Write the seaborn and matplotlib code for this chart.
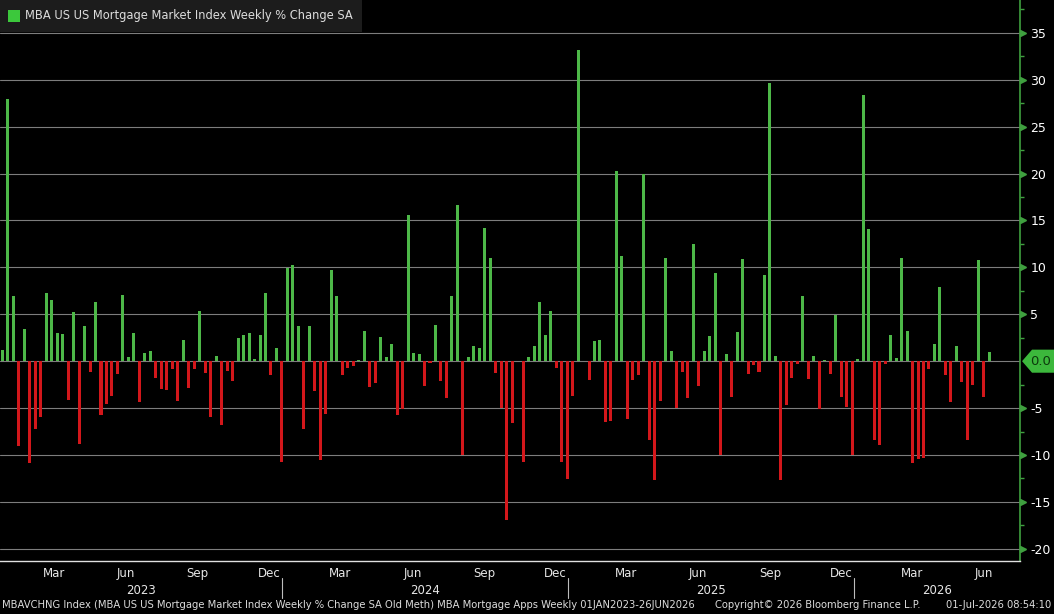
import pandas as pd
import seaborn as sns
import matplotlib.pyplot as plt
import matplotlib.transforms as mtransforms
from matplotlib.patches import Polygon, Rectangle
import numpy as np

# Weekly % change, one value per week starting with the week ending 06JAN2023
first_week = pd.Timestamp('2023-01-06')
weekly_change = [
    1.2, 28.0, 7.0, -9.0, 3.4, -10.9, -7.2, -5.9, 7.3, 6.5, 3.0, 2.9,
    -4.1, 5.2, -8.8, 3.7, -1.2, 6.3, -5.7, -4.6, -3.7, -1.4, 7.1, 0.4,
    3.0, -4.4, 0.9, 1.1, -1.8, -3.0, -3.1, -0.8, -4.2, 2.3, -2.9, -0.8,
    5.3, -1.3, -6.0, 0.5, -6.8, -1.0, -2.1, 2.5, 2.8, 3.0, 0.2,
    2.8, 7.3, -1.5, 1.4, -10.7, 9.9, 10.3, 3.7, -7.2, 3.7, -3.2, -10.5,
    -5.6, 9.7, 7.0, -1.5, -0.7, -0.5, 0.1, 3.2, -2.7, -2.3, 2.6,
    0.4, 1.8, -5.7, -5.1, 15.6, 0.9, 0.8, -2.6, -0.2, 3.9, -2.1, -3.9,
    6.9, 16.7, -10.0, 0.4, 1.6, 1.4, 14.2, 11.0, -1.3, -5.0,
    -16.9, -6.6, 0.0, -10.8, 0.4, 1.6, 6.3, 2.8, 5.3, -0.7, -10.7, -12.6,
    -3.7, 33.2, 0.0, -2.0, 2.2, 2.3, -6.5, -6.4, 20.3, 11.2, -6.2,
    -2.0, -1.5, 19.9, -8.4, -12.7, -4.2, 11.0, 1.1, -5.0, -1.2, -3.9, 12.5,
    -2.6, 1.1, 2.7, 9.4, -10.0, 0.8, -3.8, 3.1, 10.9, -1.4, -0.4,
    -1.2, 9.2, 29.6, 0.5, -12.7, -4.7, -1.8, -0.3, 7.0, -1.9, 0.5, -5.1,
    0.1, -1.4, 4.9, -3.8, -4.9, -10.0, 0.2, 28.4, 14.1, -8.4, -8.9,
    -0.3, 2.8, 0.3, 11.0, 3.2, -10.9, -10.4, -10.3, -0.8, 1.8, 7.9, -1.5,
    -4.4, 1.6, -2.2, -8.4, -2.5, 10.8, -3.8, 1.0, 0.0,
]

quarter_months = [3, 6, 9, 12]
month_names = ['Mar', 'Jun', 'Sep', 'Dec']
years = [2023, 2024, 2025, 2026]
y_ticks = list(range(-20, 40, 5))

title_text = 'MBA US US Mortgage Market Index Weekly % Change SA'
footer_left = ('MBAVCHNG Index (MBA US US Mortgage Market Index Weekly % Change SA Old Meth) '
               'MBA Mortgage Apps Weekly 01JAN2023-26JUN2026')
footer_mid = 'Copyright\u00a9 2026 Bloomberg Finance L.P.'
footer_right = '01-Jul-2026 08:54:10'

GREEN = '#4db848'
RED = '#d3171b'
AXIS_GREEN = '#3fa03f'
TAG_GREEN = '#3cb83c'


def week_pos(date):
    # position of a calendar date on the week-index axis
    return (pd.Timestamp(date) - first_week).days / 7 - 0.5


def create_chart():
    sns.set_theme(style='white')
    plt.rcParams['font.family'] = ['DejaVu Sans']

    df = pd.DataFrame({'week': np.arange(len(weekly_change)), 'change': weekly_change})
    df['direction'] = np.where(df['change'] >= 0, 'up', 'down')

    fig = plt.figure(figsize=(10.54, 6.14), dpi=100, facecolor='black')
    ax = fig.add_axes([0, 53 / 614, 1020 / 1054, 561 / 614])
    ax.set_facecolor('black')

    sns.barplot(data=df, x='week', y='change', hue='direction',
                palette={'up': GREEN, 'down': RED}, dodge=False, width=0.55,
                saturation=1, linewidth=0, errorbar=None, legend=False, ax=ax)

    x_left, x_right = -0.42, 185.6
    ax.set_xlim(x_left, x_right)
    ax.set_ylim(-21.3, 38.5)
    ax.set_xlabel('')
    ax.set_ylabel('')

    # right-hand value axis
    ax.yaxis.tick_right()
    ax.set_yticks(y_ticks)
    ax.set_yticklabels(['' if t == 0 else str(t) for t in y_ticks])
    ax.set_yticks(np.arange(-17.5, 38, 5), minor=True)
    ax.tick_params(axis='y', which='major', length=0, pad=7.5, labelcolor='white', labelsize=9)
    ax.tick_params(axis='y', which='minor', length=3, width=1, color=AXIS_GREEN, direction='out')
    ax.grid(axis='y', which='major', color='#7d7d7d', linewidth=0.8)
    ax.set_axisbelow(True)

    for side in ['top', 'left']:
        ax.spines[side].set_visible(False)
    ax.spines['right'].set_color(AXIS_GREEN)
    ax.spines['right'].set_linewidth(1.2)
    ax.spines['bottom'].set_color('#e0e0e0')
    ax.spines['bottom'].set_linewidth(1.0)

    trans = mtransforms.blended_transform_factory(ax.transAxes, ax.transData)
    marker_ticks = [t for t in y_ticks if t != 0]
    ax.plot([1.0025] * len(marker_ticks), marker_ticks, marker='>', ms=4.5, ls='none',
            color=AXIS_GREEN, transform=trans, clip_on=False)

    # last value tag
    last = weekly_change[-1]
    half = 1.23
    tag = Polygon([[1.002, last], [1.0118, last + half], [1.04, last + half],
                   [1.04, last - half], [1.0118, last - half]], closed=True,
                  transform=trans, clip_on=False, facecolor=TAG_GREEN, edgecolor='none')
    ax.add_patch(tag)
    ax.text(1.0205, last, f'{last:.1f}', transform=trans, ha='center', va='center',
            color='#0c3a0c', fontsize=9.5)

    # date axis: quarter labels mid-month, ticks at month starts
    label_pos, label_txt = [], []
    for yr in years:
        for m, name in zip(quarter_months, month_names):
            p = week_pos(f'{yr}-{m:02d}-16')
            if x_left < p < x_right:
                label_pos.append(p)
                label_txt.append(name)
    ax.set_xticks(label_pos)
    ax.set_xticklabels(label_txt)
    month_starts = [week_pos(d) for d in pd.date_range('2023-01-01', '2026-08-01', freq='MS')]
    ax.set_xticks([p for p in month_starts if x_left < p < x_right], minor=True)
    ax.tick_params(axis='x', which='major', length=0, pad=4, labelcolor='#e6e6e6', labelsize=8.5)
    ax.tick_params(axis='x', which='minor', length=4, width=1, color='#cfcfcf', direction='out')

    xtrans = mtransforms.blended_transform_factory(ax.transData, ax.transAxes)
    for yr in years:
        start = max(x_left, week_pos(f'{yr}-01-01'))
        end = min(x_right, week_pos(f'{yr + 1}-01-01'))
        ax.text((start + end) / 2, -0.0517, str(yr), transform=xtrans, ha='center',
                va='center', color='#e6e6e6', fontsize=8.5)
        if yr > years[0]:
            ax.plot([start, start], [-0.030, -0.066], color='#bdbdbd', lw=0.8,
                    transform=xtrans, clip_on=False)

    # legend box in the top-left corner
    fig.patches.append(Rectangle((0, 1 - 32 / 614), 362 / 1054, 32 / 614,
                                 transform=fig.transFigure, facecolor='#1c1c1c', edgecolor='none'))
    fig.patches.append(Rectangle((8 / 1054, 1 - 22 / 614), 12 / 1054, 12 / 614,
                                 transform=fig.transFigure, facecolor='#3cc83c', edgecolor='none'))
    fig.text(25 / 1054, 1 - 16 / 614, title_text, color='#dcdcdc', fontsize=8.3, va='center')

    # footer
    fy = 9 / 614
    fig.text(2 / 1054, fy, footer_left, color='#dcdcdc', fontsize=7.2, va='center')
    fig.text(715 / 1054, fy, footer_mid, color='#dcdcdc', fontsize=7.2, va='center')
    fig.text(1051 / 1054, fy, footer_right, color='#dcdcdc', fontsize=7.2, va='center', ha='right')

    fig.savefig('out.png', dpi=100, facecolor='black')
    plt.close(fig)


if __name__ == '__main__':
    create_chart()
